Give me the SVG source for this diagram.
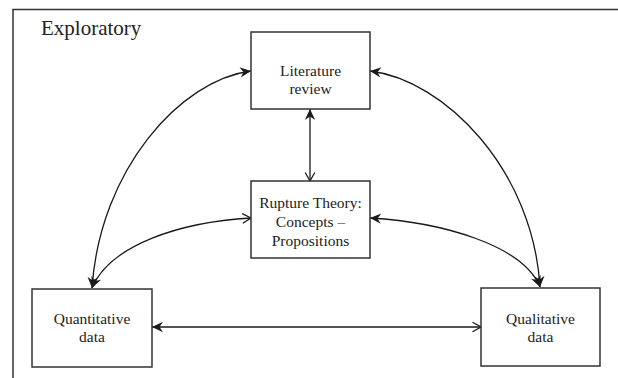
<svg xmlns="http://www.w3.org/2000/svg" width="618" height="378" viewBox="0 0 618 378">
  <style>
    .frame { fill: none; stroke: #333; stroke-width: 1.5; }
    .box { fill: #fff; stroke: #333; stroke-width: 1.5; }
    .label { font-family: "Liberation Serif", "Times New Roman", serif; font-size: 15.5px; fill: #222; text-anchor: middle; }
    .title { font-family: "Liberation Serif", "Times New Roman", serif; font-size: 21px; fill: #222; }
    .link { fill: none; stroke: #1a1a1a; stroke-width: 1.3; }
  </style>
  <defs>
    <!-- solid barbed arrowhead -->
    <marker id="solid" viewBox="-12 -6 14 12" refX="0" refY="0" markerWidth="14" markerHeight="12" markerUnits="userSpaceOnUse" orient="auto-start-reverse">
      <path d="M0,0 L-11,-5.2 L-7.5,0 L-11,5.2 Z" fill="#1a1a1a"/>
    </marker>
    <!-- open chevron arrowhead -->
    <marker id="open" viewBox="-12 -6 14 12" refX="0" refY="0" markerWidth="14" markerHeight="12" markerUnits="userSpaceOnUse" orient="auto-start-reverse">
      <path d="M-8.5,-4.8 L0,0 L-8.5,4.8" fill="none" stroke="#1a1a1a" stroke-width="1.3"/>
    </marker>
  </defs>

  <!-- outer frame (top and left edges) -->
  <path class="frame" d="M13,378 V9.5 H618"/>
  <text class="title" x="41" y="35">Exploratory</text>

  <g id="connectors">
    <path class="link" d="M251,71 C180,80 100,170 92,288" marker-start="url(#solid)" marker-end="url(#solid)"/>
    <path class="link" d="M370,71 C445,80 533,170 540,287" marker-start="url(#solid)" marker-end="url(#solid)"/>
    <path class="link" d="M251,218 C180,222 110,245 92,288" marker-start="url(#open)" marker-end="url(#solid)"/>
    <path class="link" d="M370,218 C441,222 523,245 540,287" marker-start="url(#solid)" marker-end="url(#solid)"/>
    <path class="link" d="M310,109 V181" marker-start="url(#solid)" marker-end="url(#open)"/>
    <path class="link" d="M152,327 H481" marker-start="url(#solid)" marker-end="url(#open)"/>
  </g>

  <g id="literature-review">
    <rect class="box" x="251" y="32" width="119" height="77"/>
    <text class="label" x="310.5" y="76">Literature</text>
    <text class="label" x="310.5" y="94">review</text>
  </g>

  <g id="rupture-theory">
    <rect class="box" x="251" y="181" width="119" height="77"/>
    <text class="label" x="310.5" y="208">Rupture Theory:</text>
    <text class="label" x="310.5" y="227">Concepts –</text>
    <text class="label" x="310.5" y="246">Propositions</text>
  </g>

  <g id="quantitative-data">
    <rect class="box" x="32" y="289" width="120" height="78"/>
    <text class="label" x="92" y="324">Quantitative</text>
    <text class="label" x="92" y="342">data</text>
  </g>

  <g id="qualitative-data">
    <rect class="box" x="481" y="288" width="119" height="78"/>
    <text class="label" x="540.5" y="324">Qualitative</text>
    <text class="label" x="540.5" y="342">data</text>
  </g>
</svg>
